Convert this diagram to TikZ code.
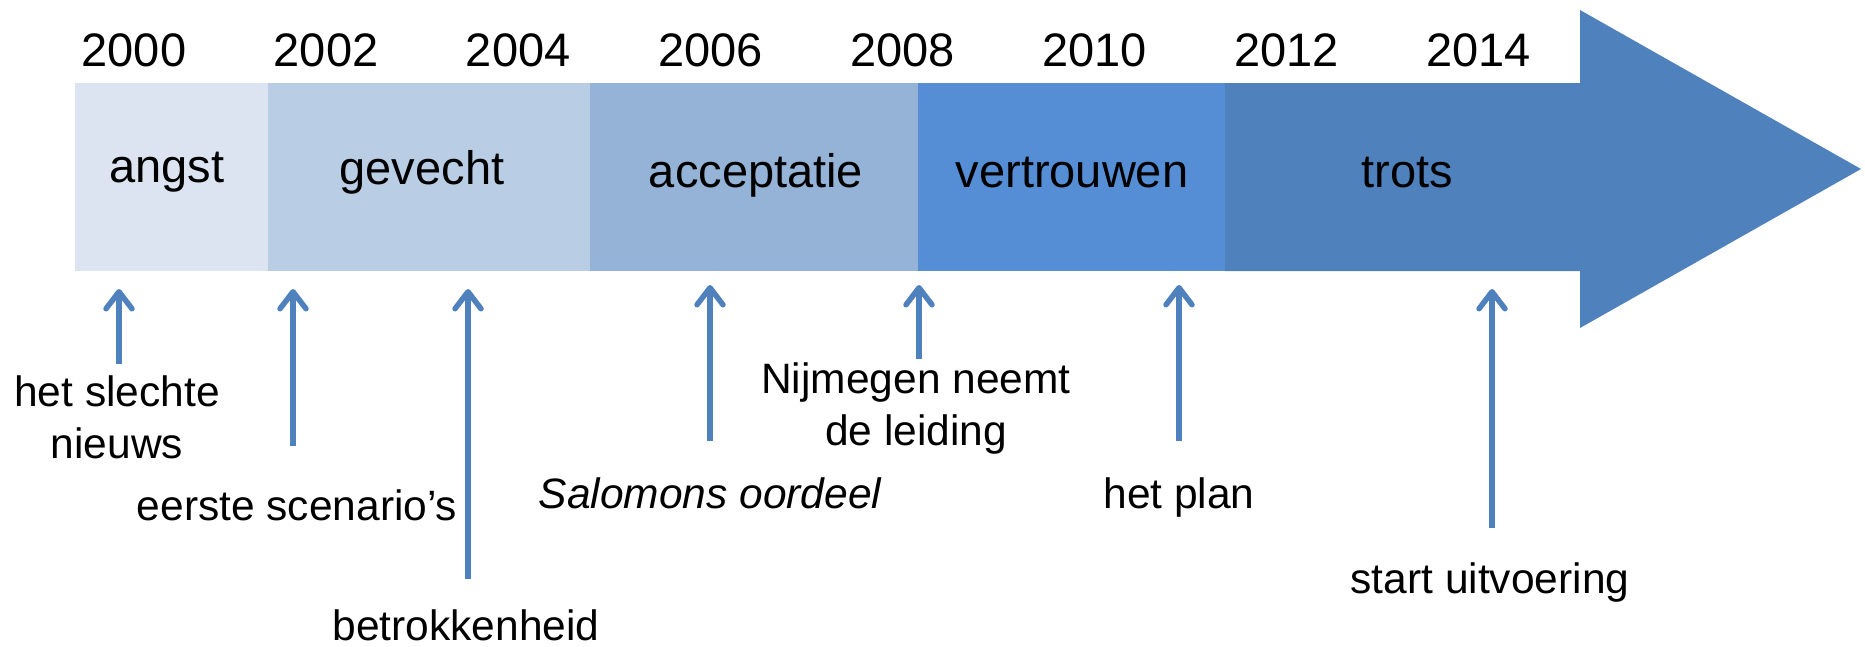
\documentclass[tikz,border=0pt]{standalone}
\usepackage{fontspec}
\setmainfont{Liberation Sans}
\usetikzlibrary{arrows.meta}
\definecolor{fase1}{HTML}{DBE4F0}
\definecolor{fase2}{HTML}{B9CDE5}
\definecolor{fase3}{HTML}{95B3D7}
\definecolor{fase4}{HTML}{558ED5}
\definecolor{fase5}{HTML}{4F81BD}
\definecolor{pijl}{HTML}{4F81BD}

\begin{document}
\begin{tikzpicture}[x=1pt,y=-1pt,
    tekst/.style={font=\fontsize{42.5}{52}\selectfont,anchor=base,inner sep=0pt,align=center},
    groot/.style={tekst,font=\fontsize{47}{56}\selectfont},
    gebeurtenis/.style={draw=pijl,line width=5.5pt,-{Straight Barb[length=17pt,width=26pt,round]}}]
            \useasboundingbox (0,0) rectangle (1865,646);

            \fill[fase1] (75,83) rectangle (268,271);
            \fill[fase2] (268,83) rectangle (590,271);
            \fill[fase3] (590,83) rectangle (918,271);
            \fill[fase4] (918,83) rectangle (1225,271);
            \fill[fase5] (1225,83)--(1580,83)--(1580,10)--(1861,169)--(1580,328)--(1580,271)--(1225,271)--cycle;

            \foreach \jaar [count=\i from 0] in {2000,2002,...,2014}
                \node[groot] (j\jaar) at (134+192.1*\i,66) {\jaar};

            \node[groot] (angst) at (167,182) {angst};
            \node[groot] (gevecht) at (422,184) {gevecht};
            \node[groot] (acceptatie) at (756,187) {acceptatie};
            \node[groot] (vertrouwen) at (1072,187) {vertrouwen};
            \node[groot] (trots) at (1407,187) {trots};

            \node[tekst] (nieuws) at (117,458) {het slechte\\nieuws};
            \node[tekst] (scenario) at (297,520) {eerste scenario’s};
            \node[tekst] (betrokken) at (466,640) {betrokkenheid};
            \node[tekst,font=\fontsize{42.5}{52}\selectfont\itshape] (salomon) at (710,508) {Salomons oordeel};
            \node[tekst] (nijmegen) at (916,445) {Nijmegen neemt\\de leiding};
            \node[tekst] (plan) at (1179,508) {het plan};
            \node[tekst] (uitvoering) at (1490,593) {start uitvoering};

            \coordinate (s1) at (119,364); \coordinate (p1) at (119,289);
            \coordinate (s2) at (293,446); \coordinate (p2) at (293,289);
            \coordinate (s3) at (468,579); \coordinate (p3) at (468,289);
            \coordinate (s4) at (710,441); \coordinate (p4) at (710,285);
            \coordinate (s5) at (919,359); \coordinate (p5) at (919,285);
            \coordinate (s6) at (1179,441); \coordinate (p6) at (1179,285);
            \coordinate (s7) at (1492,528); \coordinate (p7) at (1492,289);

            \foreach \k in {1,...,7}
                \draw[gebeurtenis] (s\k)--(p\k);
        \end{tikzpicture}
\end{document}
